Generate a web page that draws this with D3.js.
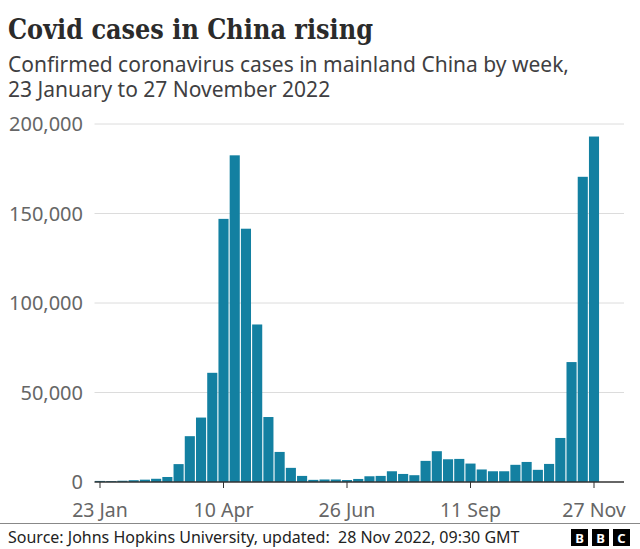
<!DOCTYPE html>
<html>
<head>
<meta charset="utf-8">
<script src="https://cdn.jsdelivr.net/npm/d3@7"></script>
<style>
  html, body { margin: 0; padding: 0; background: #fff; }
  svg { display: block; }
</style>
</head>
<body>
<svg id="chart" width="640" height="549"></svg>
<script>
// ---- Data ----
const weeks = [
  "23 Jan","30 Jan","6 Feb","13 Feb","20 Feb","27 Feb","6 Mar","13 Mar","20 Mar","27 Mar",
  "3 Apr","10 Apr","17 Apr","24 Apr","1 May","8 May","15 May","22 May","29 May","5 Jun",
  "12 Jun","19 Jun","26 Jun","3 Jul","10 Jul","17 Jul","24 Jul","31 Jul","7 Aug","14 Aug",
  "21 Aug","28 Aug","4 Sep","11 Sep","18 Sep","25 Sep","2 Oct","9 Oct","16 Oct","23 Oct",
  "30 Oct","6 Nov","13 Nov","20 Nov","27 Nov"
];
const cases = [
  600, 500, 700, 1000, 1300, 1800, 2800, 10000, 25600, 36000,
  61000, 147000, 182500, 141500, 88000, 36300, 16800, 7900, 3400, 1200,
  1400, 1400, 1100, 1700, 3200, 3400, 6000, 4500, 3800, 11800,
  17200, 12700, 12900, 10300, 7000, 6000, 6000, 9600, 11200, 6800,
  10100, 24600, 67000, 170500, 193000
];
const xTickLabels = ["23 Jan","10 Apr","26 Jun","11 Sep","27 Nov"];
const yTicks = [0, 50000, 100000, 150000, 200000];

// ---- Layout ----
const svg = d3.select("#chart");
const W = 640, H = 549;
const plotLeft = 94.5, plotRight = 624;
const yTop = 124, yBottom = 482;
const firstCenter = 100, lastCenter = 594;
const step = (lastCenter - firstCenter) / (weeks.length - 1);

const x = d3.scaleBand()
  .domain(weeks)
  .range([firstCenter - step / 2, lastCenter + step / 2])
  .paddingInner(0.1)
  .paddingOuter(0.05);

const y = d3.scaleLinear().domain([0, 200000]).range([yBottom, yTop]);

const textGray = "#666666";

// Title
svg.append("text")
  .attr("x", 8).attr("y", 39)
  .attr("font-family", "'DejaVu Serif', serif")
  .attr("font-weight", "bold")
  .attr("font-size", 27)
  .attr("fill", "#2b2b2b")
  .attr("textLength", 365)
  .attr("lengthAdjust", "spacingAndGlyphs")
  .text("Covid cases in China rising");

// Subtitle (one text block, two lines)
const sub = ["Confirmed coronavirus cases in mainland China by week,", "23 January to 27 November 2022"];
svg.append("text")
  .attr("x", 8).attr("y", 72)
  .attr("font-family", "'Noto Sans', sans-serif")
  .attr("font-size", 21)
  .attr("fill", "#3f3f42")
  .selectAll("tspan")
  .data(sub)
  .join("tspan")
  .attr("x", 8)
  .attr("dy", (d, i) => i === 0 ? 0 : 25)
  .text(d => d);

// Gridlines
svg.append("g")
  .selectAll("line")
  .data(yTicks.filter(d => d > 0))
  .join("line")
  .attr("x1", plotLeft).attr("x2", plotRight)
  .attr("y1", d => y(d)).attr("y2", d => y(d))
  .attr("stroke", "#dcdcdc").attr("stroke-width", 1);

// Y axis labels
const yAxis = d3.axisLeft(y).tickValues(yTicks).tickSize(0).tickPadding(0)
  .tickFormat(d3.format(","));
const gy = svg.append("g").attr("transform", `translate(83,0)`).call(yAxis);
gy.select(".domain").remove();
gy.selectAll("text")
  .attr("font-family", "'Noto Sans', sans-serif")
  .attr("font-size", 20)
  .attr("fill", textGray)
  .attr("dy", "0.34em");

// Bars
svg.append("g")
  .selectAll("rect")
  .data(weeks.map((w, i) => ({ w, v: cases[i] })))
  .join("rect")
  .attr("x", d => x(d.w))
  .attr("width", x.bandwidth())
  .attr("y", d => y(d.v))
  .attr("height", d => yBottom - y(d.v))
  .attr("fill", "#1380a1");

// X axis
const xAxis = d3.axisBottom(x).tickValues(xTickLabels).tickSize(6).tickPadding(15);
const gx = svg.append("g").attr("transform", `translate(0,${yBottom})`).call(xAxis);
gx.select(".domain").remove();
gx.append("line")
  .attr("x1", plotLeft).attr("x2", plotRight)
  .attr("y1", 0).attr("y2", 0)
  .attr("stroke", "#333").attr("stroke-width", 1.5);
gx.selectAll(".tick line").attr("stroke", "#333").attr("stroke-width", 1);
gx.selectAll(".tick text")
  .attr("font-family", "'Noto Sans', sans-serif")
  .attr("font-size", 19.5)
  .attr("fill", textGray)
  .attr("dy", "0.71em");

// Footer line
svg.append("line")
  .attr("x1", 0).attr("x2", W)
  .attr("y1", 523.5).attr("y2", 523.5)
  .attr("stroke", "#888").attr("stroke-width", 1);

// Source
svg.append("text")
  .attr("x", 8).attr("y", 543)
  .attr("font-family", "'Noto Sans', sans-serif")
  .attr("font-size", 16)
  .attr("fill", "#222")
  .attr("xml:space", "preserve")
  .text("Source: Johns Hopkins University, updated:  28 Nov 2022, 09:30 GMT");

// BBC logo
const logo = ["B", "B", "C"];
const lg = svg.append("g");
logo.forEach((ch, i) => {
  const lx = 571 + i * 21;
  lg.append("rect").attr("x", lx).attr("y", 529).attr("width", 17).attr("height", 17).attr("fill", "#000");
  lg.append("text").attr("x", lx + 8.5).attr("y", 542.5)
    .attr("text-anchor", "middle")
    .attr("font-family", "'Noto Sans', sans-serif")
    .attr("font-weight", "bold")
    .attr("font-size", 13)
    .attr("fill", "#fff")
    .text(ch);
});
</script>
</body>
</html>
